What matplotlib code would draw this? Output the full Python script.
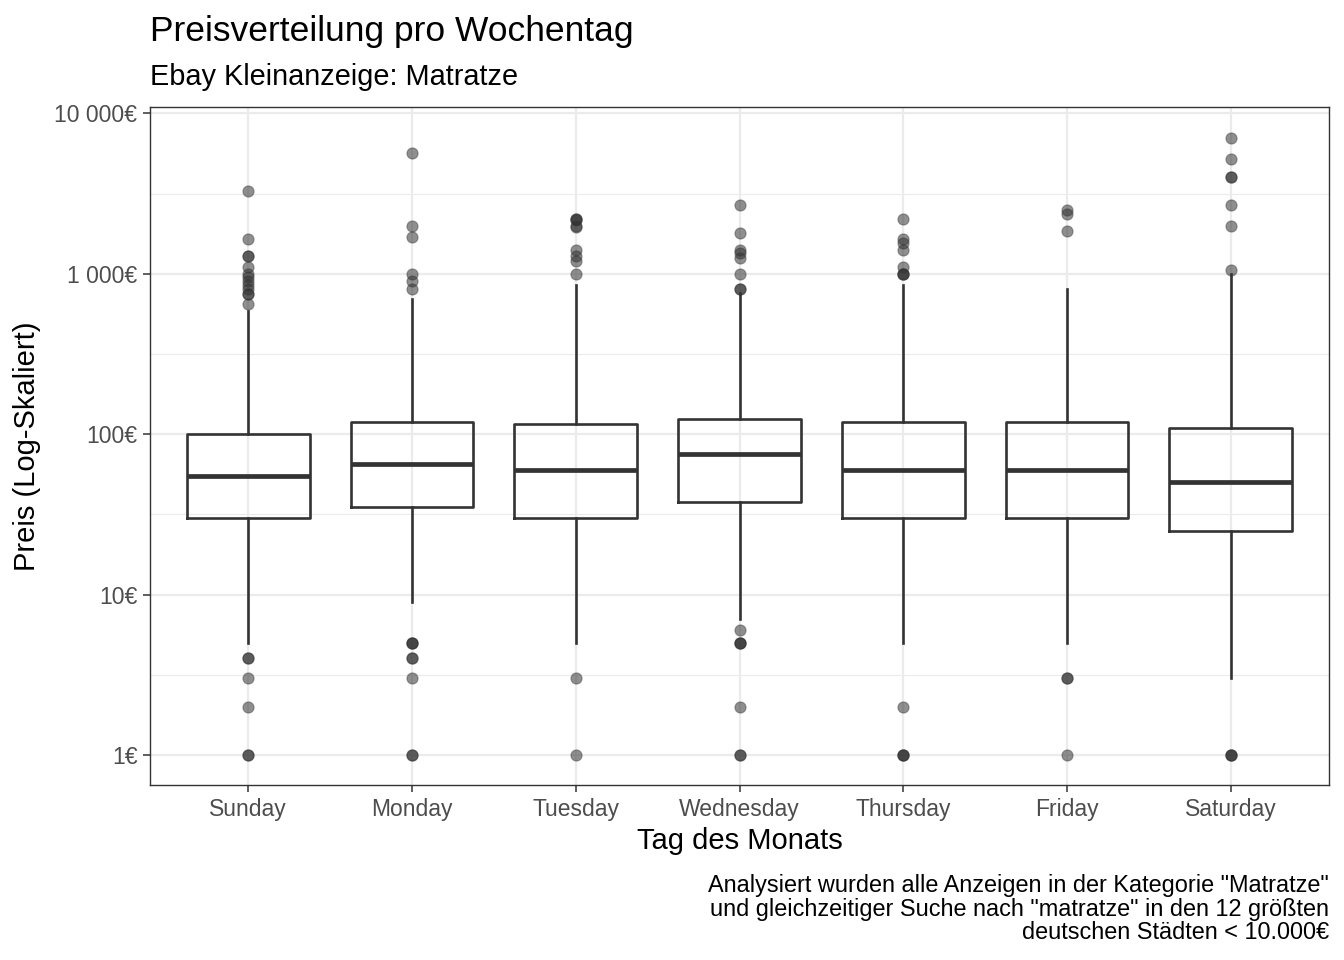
import matplotlib
matplotlib.use("Agg")
import matplotlib.pyplot as plt
from matplotlib.ticker import FixedLocator, NullFormatter

plt.rcParams['font.family'] = ['Liberation Sans', 'DejaVu Sans']

# Daten
days = ["Sunday", "Monday", "Tuesday", "Wednesday", "Thursday", "Friday", "Saturday"]
q1 = [30, 35, 30, 38, 30, 30, 25]
med = [55, 65, 60, 75, 60, 60, 50]
q3 = [100, 120, 115, 125, 120, 120, 110]
whislo = [5, 9, 5, 7, 5, 5, 3]
whishi = [590, 700, 850, 760, 850, 800, 1000]
outliers = [
    [3300, 1650, 1300, 1300, 1100, 1000, 950, 900, 850, 800, 750, 750, 650, 4, 4, 3, 2, 1, 1],
    [5700, 2000, 1700, 1000, 900, 800, 5, 5, 5, 4, 4, 3, 1, 1],
    [2200, 2200, 2150, 2000, 1950, 1400, 1300, 1200, 1000, 3, 1],
    [2700, 1800, 1400, 1350, 1250, 1000, 800, 800, 6, 5, 5, 5, 2, 1, 1],
    [2200, 1650, 1550, 1400, 1100, 1000, 1000, 1000, 2, 1, 1, 1],
    [2500, 2350, 1850, 3, 3, 1],
    [7000, 5200, 4000, 4000, 2700, 2000, 1050, 1, 1, 1],
]
yticks = [1, 10, 100, 1000, 10000]
yticklabels = ["1€", "10€", "100€", "1 000€", "10 000€"]
yminor = [10 ** 0.5, 10 ** 1.5, 10 ** 2.5, 10 ** 3.5]

stats = []
for i in range(len(days)):
    stats.append(dict(label=days[i], q1=q1[i], med=med[i], q3=q3[i],
                      whislo=whislo[i], whishi=whishi[i], fliers=outliers[i]))

fig = plt.figure(figsize=(13.44, 9.6), dpi=100)
ax = fig.add_axes([150 / 1344, 1 - 785 / 960, 1179 / 1344, 678 / 960])
ax.set_yscale('log')

line = dict(color='#333333', linewidth=1.9)
ax.bxp(stats, positions=range(1, 8), widths=0.75, showcaps=False,
       boxprops=line, whiskerprops=line,
       medianprops=dict(color='#333333', linewidth=3.4),
       flierprops=dict(marker='o', markersize=8, markerfacecolor=(0.2, 0.2, 0.2, 0.55),
                       markeredgecolor=(0.2, 0.2, 0.2, 0.4), markeredgewidth=0.9,
                       linestyle='none'),
       zorder=3)

ax.set_xlim(0.4, 7.6)
ax.set_ylim(10 ** -0.187, 10 ** 4.04)
ax.yaxis.set_major_locator(FixedLocator(yticks))
ax.set_yticklabels(yticklabels)
ax.yaxis.set_minor_locator(FixedLocator(yminor))
ax.yaxis.set_minor_formatter(NullFormatter())
ax.set_xticks(range(1, 8))
ax.set_xticklabels(days)

ax.grid(True, which='major', color='#EBEBEB', linewidth=1.6, zorder=0)
ax.grid(True, which='minor', axis='y', color='#EBEBEB', linewidth=0.8, zorder=0)
ax.set_axisbelow(True)
ax.tick_params(which='major', length=5, width=1.1, color='#333333',
               labelsize=16.5, labelcolor='#4D4D4D')
ax.tick_params(axis='x', pad=4.5)
ax.tick_params(axis='y', pad=4)
ax.tick_params(which='minor', length=0)
for s in ax.spines.values():
    s.set_color('#333333')
    s.set_linewidth(1.0)

ax.set_xlabel("Tag des Monats", fontsize=21, labelpad=4)
ax.set_ylabel("Preis (Log-Skaliert)", fontsize=21, labelpad=10)

fig.text(150 / 1344, 1 - 41 / 960, "Preisverteilung pro Wochentag", fontsize=25.5, va='baseline')
fig.text(150 / 1344, 1 - 85 / 960, "Ebay Kleinanzeige: Matratze", fontsize=20.8, va='baseline')
fig.text(1329 / 1344, 1 - 939 / 960,
         'Analysiert wurden alle Anzeigen in der Kategorie "Matratze"\n'
         'und gleichzeitiger Suche nach "matratze" in den 12 größten\n'
         'deutschen Städten < 10.000€',
         fontsize=16.9, ha='right', va='baseline', multialignment='right', linespacing=1.02)

fig.savefig("out.png", dpi=100)
